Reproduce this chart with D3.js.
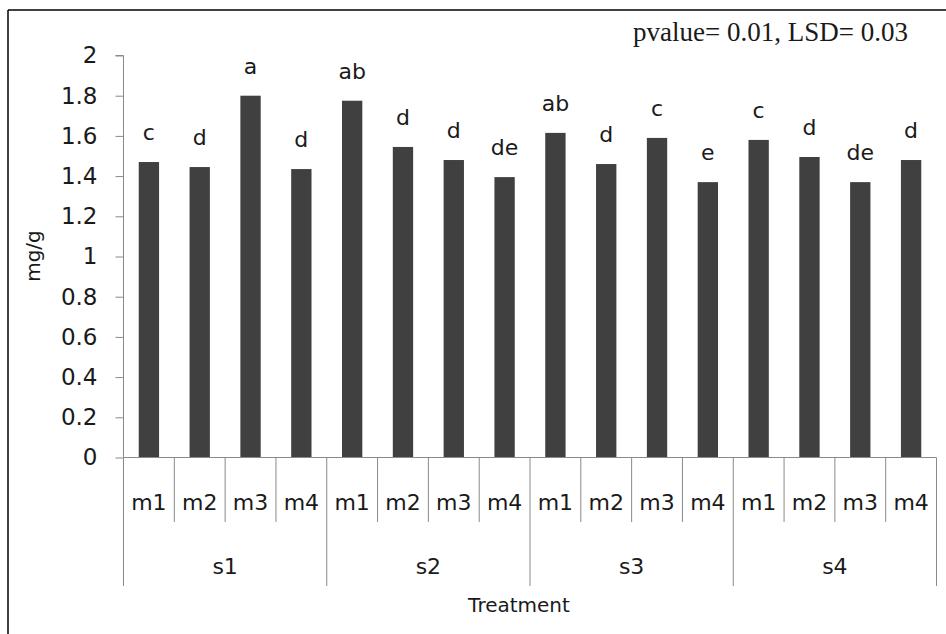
<!DOCTYPE html>
<html>
<head>
<meta charset="utf-8">
<script src="https://cdn.jsdelivr.net/npm/d3@7"></script>
<style>
  html, body { margin: 0; padding: 0; background: #fff; }
  svg { display: block; }
</style>
</head>
<body>
<svg id="chart" width="946" height="634"></svg>
<script>
// ---- data ----
const groups = ["s1", "s2", "s3", "s4"];
const subCats = ["m1", "m2", "m3", "m4"];
const values = [1.47, 1.445, 1.80, 1.435,
                1.775, 1.545, 1.48, 1.395,
                1.615, 1.46, 1.59, 1.37,
                1.58, 1.495, 1.37, 1.48];
const letters = ["c", "d", "a", "d",
                 "ab", "d", "d", "de",
                 "ab", "d", "c", "e",
                 "c", "d", "de", "d"];
const yTicks = [0, 0.2, 0.4, 0.6, 0.8, 1, 1.2, 1.4, 1.6, 1.8, 2];
const yTitle = "mg/g";
const xTitle = "Treatment";
const note = "pvalue= 0.01, LSD= 0.03";

// ---- layout ----
const svg = d3.select("#chart");
const mLeft = 123.5, mRight = 936.5, mTop = 55.5, mBottom = 457.5;
const font = "'DejaVu Sans', Verdana, sans-serif";
const axisColor = "#8a8a8a";
const textColor = "#1a1a1a";

const keys = [];
groups.forEach(g => subCats.forEach(m => keys.push(g + "|" + m)));
const data = keys.map((k, i) => ({ key: k, group: k.split("|")[0], sub: k.split("|")[1], value: values[i], letter: letters[i] }));

const x = d3.scaleBand().domain(keys).range([mLeft, mRight]).paddingInner(0.6).paddingOuter(0.3);
const y = d3.scaleLinear().domain([0, 2]).range([mBottom, mTop]);
const step = x.step();
const bandStart = k => x(k) - step * x.paddingInner() / 2;   // left edge of category slot

// outer frame (only left and top visible)
svg.append("line").attr("x1", 8).attr("x2", 8).attr("y1", 10).attr("y2", 634)
   .attr("stroke", "#000").attr("stroke-width", 1.5);
svg.append("line").attr("x1", 8).attr("x2", 946).attr("y1", 10).attr("y2", 10)
   .attr("stroke", "#000").attr("stroke-width", 1.5);

// bars
svg.append("g").selectAll("rect").data(data).join("rect")
  .attr("x", d => x(d.key))
  .attr("width", x.bandwidth())
  .attr("y", d => y(d.value))
  .attr("height", d => y(0) - y(d.value))
  .attr("fill", "#404040");

// letters above bars
svg.append("g").selectAll("text").data(data).join("text")
  .attr("x", d => x(d.key) + x.bandwidth() / 2)
  .attr("y", d => y(d.value) - 22)
  .attr("text-anchor", "middle")
  .attr("font-family", font)
  .attr("font-size", 22)
  .attr("fill", textColor)
  .text(d => d.letter);

// y axis
const yAxis = d3.axisLeft(y).tickValues(yTicks).tickSize(8).tickPadding(18)
  .tickFormat(d => String(+d.toFixed(1)));
const gy = svg.append("g").attr("transform", `translate(${mLeft},0)`).call(yAxis);
gy.select(".domain").attr("stroke", axisColor).attr("d", `M-8,${mTop}H0V${mBottom}`);
gy.selectAll(".tick line").attr("stroke", axisColor);
gy.selectAll(".tick text").attr("font-family", font).attr("font-size", 23).attr("fill", textColor);

// x axis baseline
svg.append("line").attr("x1", mLeft).attr("x2", mRight).attr("y1", mBottom).attr("y2", mBottom)
   .attr("stroke", axisColor).attr("stroke-width", 1);

// separators between categories
const sepXs = keys.map(k => bandStart(k)).concat([mRight]);
svg.append("g").selectAll("line").data(sepXs).join("line")
  .attr("x1", d => d).attr("x2", d => d)
  .attr("y1", mBottom)
  .attr("y2", (d, i) => (i % subCats.length === 0) ? 586 : 522)
  .attr("stroke", axisColor).attr("stroke-width", 1);

// sub-category labels
svg.append("g").selectAll("text").data(data).join("text")
  .attr("x", d => x(d.key) + x.bandwidth() / 2)
  .attr("y", 510)
  .attr("text-anchor", "middle")
  .attr("font-family", font)
  .attr("font-size", 22)
  .attr("fill", textColor)
  .text(d => d.sub);

// group labels
svg.append("g").selectAll("text").data(groups).join("text")
  .attr("x", g => {
    const a = x(g + "|" + subCats[0]), b = x(g + "|" + subCats[subCats.length - 1]) + x.bandwidth();
    return (a + b) / 2;
  })
  .attr("y", 574)
  .attr("text-anchor", "middle")
  .attr("font-family", font)
  .attr("font-size", 22)
  .attr("fill", textColor)
  .text(g => g);

// axis titles
svg.append("text")
  .attr("x", 519).attr("y", 612)
  .attr("text-anchor", "middle")
  .attr("font-family", font).attr("font-size", 20).attr("fill", textColor)
  .text(xTitle);

svg.append("text")
  .attr("transform", "translate(40,256) rotate(-90)")
  .attr("text-anchor", "middle")
  .attr("font-family", font).attr("font-size", 20).attr("fill", textColor)
  .text(yTitle);

// annotation
svg.append("text")
  .attr("x", 908).attr("y", 41)
  .attr("text-anchor", "end")
  .attr("font-family", "'Liberation Serif', 'Times New Roman', serif")
  .attr("font-size", 27).attr("fill", textColor)
  .text(note);
</script>
</body>
</html>
